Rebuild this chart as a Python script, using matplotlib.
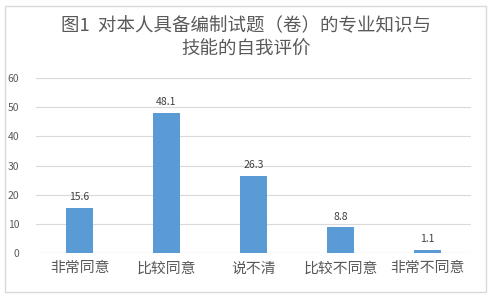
import matplotlib
matplotlib.use("Agg")
import matplotlib.pyplot as plt
from matplotlib.patches import FancyBboxPatch

plt.rcParams['font.family'] = ['Noto Sans CJK SC', 'DejaVu Sans']

categories = ["非常同意", "比较同意", "说不清", "比较不同意", "非常不同意"]
values = [15.6, 48.1, 26.3, 8.8, 1.1]
yticks = [0, 10, 20, 30, 40, 50, 60]
title = "图1  对本人具备编制试题（卷）的专业知识与\n技能的自我评价"

fig = plt.figure(figsize=(4.92, 2.99), dpi=100)
ax = fig.add_axes([36/492, 1 - 253/299, (471-36)/492, (253-78)/299])

x = range(len(categories))
ax.bar(x, values, width=0.31, color="#5B9BD5", zorder=3)
for xi, v in zip(x, values):
    ax.text(xi, v + 2, f"{v}", ha="center", va="bottom", fontsize=7.5, color="#404040")

ax.set_xlim(-0.5, len(categories) - 0.5)
ax.set_ylim(0, 60)
ax.set_yticks(yticks)
ax.set_yticklabels([str(t) for t in yticks], fontsize=7.5, color="#595959")
ax.set_xticks(list(x))
ax.set_xticklabels(categories, fontsize=10.7, color="#595959")
ax.tick_params(axis="both", length=0)
ax.tick_params(axis="y", pad=12)
ax.tick_params(axis="x", pad=6)
ax.grid(axis="y", color="#D9D9D9", linewidth=0.8, zorder=0)
for s in ax.spines.values():
    s.set_visible(False)
ax.axhline(0, color="#D9D9D9", linewidth=0.8, zorder=2)

fig.text(0.5, 1 - 38/299, title, ha="center", va="center", fontsize=13.3,
         color="#595959", linespacing=1.4)

border = FancyBboxPatch((5/492, 7/299), 481/492, 286/299,
                        boxstyle="square,pad=0", transform=fig.transFigure,
                        fill=False, edgecolor="#D9D9D9", linewidth=1)
fig.patches.append(border)

fig.savefig("out.png", dpi=100)
